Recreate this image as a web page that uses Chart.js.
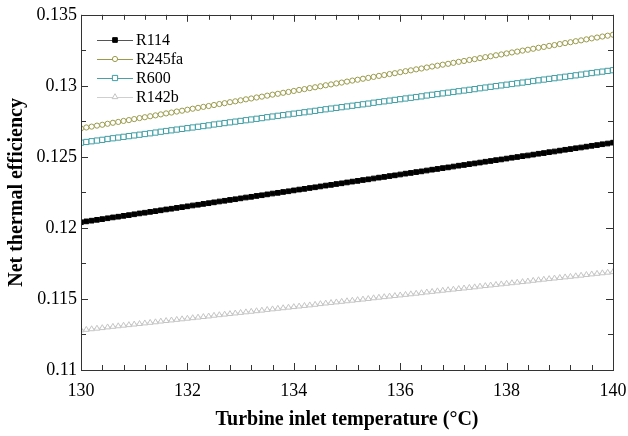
<!DOCTYPE html>
<html>
<head>
<meta charset="utf-8">
<script src="https://cdn.jsdelivr.net/npm/chart.js@4/dist/chart.umd.min.js"></script>
<style>
html,body{margin:0;padding:0;background:#fff;}
#wrap{width:628px;height:436px;position:relative;}
</style>
</head>
<body>
<div id="wrap"><canvas id="c" width="628" height="436"></canvas></div>
<script>
const temperatures = [130.0,130.1,130.2,130.3,130.4,130.5,130.6,130.7,130.8,130.9,
131.0,131.1,131.2,131.3,131.4,131.5,131.6,131.7,131.8,131.9,
132.0,132.1,132.2,132.3,132.4,132.5,132.6,132.7,132.8,132.9,
133.0,133.1,133.2,133.3,133.4,133.5,133.6,133.7,133.8,133.9,
134.0,134.1,134.2,134.3,134.4,134.5,134.6,134.7,134.8,134.9,
135.0,135.1,135.2,135.3,135.4,135.5,135.6,135.7,135.8,135.9,
136.0,136.1,136.2,136.3,136.4,136.5,136.6,136.7,136.8,136.9,
137.0,137.1,137.2,137.3,137.4,137.5,137.6,137.7,137.8,137.9,
138.0,138.1,138.2,138.3,138.4,138.5,138.6,138.7,138.8,138.9,
139.0,139.1,139.2,139.3,139.4,139.5,139.6,139.7,139.8,139.9,140.0];

const r114 = [0.12040,0.12046,0.12051,0.12057,0.12062,0.12068,0.12074,0.12079,0.12085,0.12090,
0.12096,0.12102,0.12107,0.12113,0.12118,0.12124,0.12130,0.12135,0.12141,0.12146,
0.12152,0.12158,0.12163,0.12169,0.12174,0.12180,0.12186,0.12191,0.12197,0.12202,
0.12208,0.12214,0.12219,0.12225,0.12230,0.12236,0.12242,0.12247,0.12253,0.12258,
0.12264,0.12270,0.12275,0.12281,0.12286,0.12292,0.12298,0.12303,0.12309,0.12314,
0.12320,0.12326,0.12331,0.12337,0.12342,0.12348,0.12354,0.12359,0.12365,0.12370,
0.12376,0.12382,0.12387,0.12393,0.12398,0.12404,0.12410,0.12415,0.12421,0.12426,
0.12432,0.12438,0.12443,0.12449,0.12454,0.12460,0.12466,0.12471,0.12477,0.12482,
0.12488,0.12494,0.12499,0.12505,0.12510,0.12516,0.12522,0.12527,0.12533,0.12538,
0.12544,0.12550,0.12555,0.12561,0.12566,0.12572,0.12578,0.12583,0.12589,0.12594,0.12600];

const r245fa = [0.12700,0.12707,0.12713,0.12720,0.12726,0.12733,0.12740,0.12746,0.12753,0.12759,
0.12766,0.12773,0.12779,0.12786,0.12792,0.12799,0.12806,0.12812,0.12819,0.12825,
0.12832,0.12839,0.12845,0.12852,0.12858,0.12865,0.12872,0.12878,0.12885,0.12891,
0.12898,0.12905,0.12911,0.12918,0.12924,0.12931,0.12938,0.12944,0.12951,0.12957,
0.12964,0.12971,0.12977,0.12984,0.12990,0.12997,0.13004,0.13010,0.13017,0.13023,
0.13030,0.13037,0.13043,0.13050,0.13056,0.13063,0.13070,0.13076,0.13083,0.13089,
0.13096,0.13103,0.13109,0.13116,0.13122,0.13129,0.13136,0.13142,0.13149,0.13155,
0.13162,0.13169,0.13175,0.13182,0.13188,0.13195,0.13202,0.13208,0.13215,0.13221,
0.13228,0.13235,0.13241,0.13248,0.13254,0.13261,0.13268,0.13274,0.13281,0.13287,
0.13294,0.13301,0.13307,0.13314,0.13320,0.13327,0.13334,0.13340,0.13347,0.13353,0.13360];

const r600 = [0.12600,0.12605,0.12610,0.12615,0.12620,0.12626,0.12631,0.12636,0.12641,0.12646,
0.12651,0.12656,0.12661,0.12666,0.12671,0.12677,0.12682,0.12687,0.12692,0.12697,
0.12702,0.12707,0.12712,0.12717,0.12722,0.12728,0.12733,0.12738,0.12743,0.12748,
0.12753,0.12758,0.12763,0.12768,0.12773,0.12779,0.12784,0.12789,0.12794,0.12799,
0.12804,0.12809,0.12814,0.12819,0.12824,0.12830,0.12835,0.12840,0.12845,0.12850,
0.12855,0.12860,0.12865,0.12870,0.12875,0.12881,0.12886,0.12891,0.12896,0.12901,
0.12906,0.12911,0.12916,0.12921,0.12926,0.12932,0.12937,0.12942,0.12947,0.12952,
0.12957,0.12962,0.12967,0.12972,0.12977,0.12983,0.12988,0.12993,0.12998,0.13003,
0.13008,0.13013,0.13018,0.13023,0.13028,0.13034,0.13039,0.13044,0.13049,0.13054,
0.13059,0.13064,0.13069,0.13074,0.13079,0.13085,0.13090,0.13095,0.13100,0.13105,0.13110];

const r142b = [0.11280,0.11284,0.11288,0.11292,0.11296,0.11301,0.11305,0.11309,0.11313,0.11317,
0.11321,0.11325,0.11329,0.11333,0.11337,0.11342,0.11346,0.11350,0.11354,0.11358,
0.11362,0.11366,0.11370,0.11374,0.11378,0.11383,0.11387,0.11391,0.11395,0.11399,
0.11403,0.11407,0.11411,0.11415,0.11419,0.11424,0.11428,0.11432,0.11436,0.11440,
0.11444,0.11448,0.11452,0.11456,0.11460,0.11465,0.11469,0.11473,0.11477,0.11481,
0.11485,0.11489,0.11493,0.11497,0.11501,0.11506,0.11510,0.11514,0.11518,0.11522,
0.11526,0.11530,0.11534,0.11538,0.11542,0.11547,0.11551,0.11555,0.11559,0.11563,
0.11567,0.11571,0.11575,0.11579,0.11583,0.11588,0.11592,0.11596,0.11600,0.11604,
0.11608,0.11612,0.11616,0.11620,0.11624,0.11629,0.11633,0.11637,0.11641,0.11645,
0.11649,0.11653,0.11657,0.11661,0.11665,0.11670,0.11674,0.11678,0.11682,0.11686,0.11690];

const seriesNames = ['R114','R245fa','R600','R142b'];
const xTicks = [130,132,134,136,138,140];
const yTicks = [0.11,0.115,0.12,0.125,0.13,0.135];

const SERIF = '"Liberation Serif","Times New Roman",serif';

function pts(arr){ return arr.map((v,i)=>({x:temperatures[i], y:v})); }

const styles = [
  {line:'#555555', pt:'#000000', fill:'#000000', style:'rect', r:3.3},
  {line:'#9a9a4a', pt:'#9a9a4a', fill:'#ffffff', style:'circle', r:2.6},
  {line:'#4aa0a6', pt:'#3f9ea4', fill:'#ffffff', style:'rect', r:3.7},
  {line:'#cfcfcf', pt:'#c4c4c4', fill:'#ffffff', style:'triangle', r:3.3}
];
const allData = [r114, r245fa, r600, r142b];

const datasets = allData.map((d,i)=>({
  label: seriesNames[i],
  data: pts(d),
  borderColor: styles[i].line,
  borderWidth: 1,
  pointStyle: styles[i].style,
  pointRadius: styles[i].r,
  pointBorderColor: styles[i].pt,
  pointBackgroundColor: styles[i].fill,
  pointBorderWidth: 1,
  fill: false,
  tension: 0
}));

const framePlugin = {
  id: 'frame',
  afterDatasetsDraw(chart){
    const {ctx, chartArea:a, scales:{x,y}} = chart;
    ctx.save();
    ctx.strokeStyle = '#333';
    ctx.lineWidth = 1;
    ctx.strokeRect(Math.round(a.left)+0.5, Math.round(a.top)+0.5, Math.round(a.right-a.left), Math.round(a.bottom-a.top));
    ctx.beginPath();
    for (let k=0; k<=25; k++){
      const v = 130 + k*0.4;
      const px = Math.round(x.getPixelForValue(v))+0.5;
      const len = (k%5===0) ? 7 : 5;
      ctx.moveTo(px, a.bottom); ctx.lineTo(px, a.bottom-len);
      ctx.moveTo(px, a.top); ctx.lineTo(px, a.top+len);
    }
    for (let k=0; k<=10; k++){
      const v = 0.11 + k*0.0025;
      const py = Math.round(y.getPixelForValue(v))+0.5;
      const len = (k%2===0) ? 7 : 5;
      ctx.moveTo(a.left, py); ctx.lineTo(a.left+len, py);
      ctx.moveTo(a.right, py); ctx.lineTo(a.right-len, py);
    }
    ctx.stroke();

    // legend
    const lx = 97, ly0 = 40, dy = 19;
    ctx.font = '16px ' + SERIF;
    ctx.textBaseline = 'middle';
    chart.data.datasets.forEach((ds,i)=>{
      const yy = ly0 + i*dy;
      ctx.strokeStyle = ds.borderColor;
      ctx.lineWidth = 1;
      ctx.beginPath(); ctx.moveTo(lx, yy+0.5); ctx.lineTo(lx+36, yy+0.5); ctx.stroke();
      ctx.fillStyle = ds.pointBackgroundColor; ctx.strokeStyle = ds.pointBorderColor;
      Chart.helpers.drawPoint(ctx, {pointStyle: ds.pointStyle, radius: ds.pointRadius, borderWidth: 1}, lx+18, yy);
      ctx.fillStyle = '#000';
      ctx.fillText(ds.label, lx+39, yy+1);
    });
    ctx.restore();
  }
};

new Chart(document.getElementById('c'), {
  type: 'line',
  data: { datasets },
  plugins: [framePlugin],
  options: {
    responsive: false,
    animation: false,
    devicePixelRatio: 1,
    layout: { padding: { left: 0, top: 11, right: 15, bottom: 0 } },
    plugins: { legend: { display: false }, tooltip: { enabled: false } },
    scales: {
      x: {
        type: 'linear', min: 130, max: 140,
        afterBuildTicks(s){ s.ticks = xTicks.map(v=>({value:v})); },
        afterFit(s){ s.height = 66; s.paddingRight = 0; s.paddingLeft = 0; },
        grid: { display: false, drawTicks: false },
        border: { display: false },
        ticks: { color: '#000', font: { family: SERIF, size: 18 }, padding: 10, maxRotation: 0, callback: v => String(v) },
        title: { display: true, text: 'Turbine inlet temperature (°C)', color: '#000', font: { family: SERIF, size: 20, weight: 'bold' }, padding: { top: 0, bottom: 4 } }
      },
      y: {
        type: 'linear', min: 0.11, max: 0.135,
        afterBuildTicks(s){ s.ticks = yTicks.map(v=>({value:v})); },
        afterFit(s){ s.width = 81; },
        grid: { display: false, drawTicks: false },
        border: { display: false },
        ticks: { color: '#000', font: { family: SERIF, size: 18 }, padding: 4, callback: v => String(Math.round(v*1000)/1000) },
        title: { display: true, text: 'Net thermal efficiency', color: '#000', font: { family: SERIF, size: 20, weight: 'bold' }, padding: { top: 5, bottom: 0 } }
      }
    }
  }
});
</script>
</body>
</html>
